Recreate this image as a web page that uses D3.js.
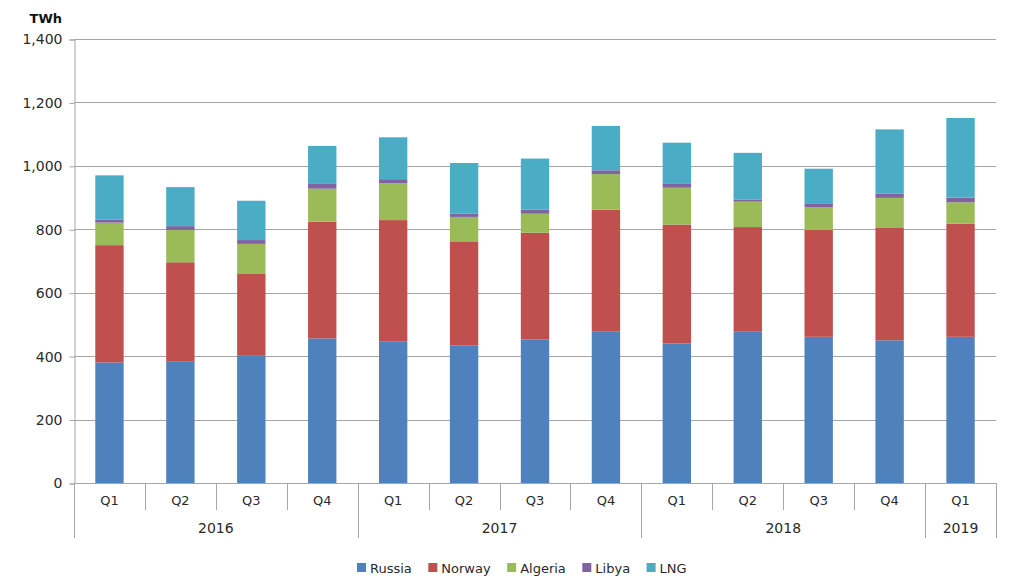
<!DOCTYPE html>
<html>
<head>
<meta charset="utf-8">
<script src="https://cdn.jsdelivr.net/npm/d3@7/dist/d3.min.js"></script>
<style>
  html, body { margin: 0; padding: 0; background: #fff; }
  svg { display: block; font-family: "DejaVu Sans", Verdana, sans-serif; }
</style>
</head>
<body>
<svg id="chart" width="1024" height="583"></svg>
<script>
const quarters = ["Q1","Q2","Q3","Q4","Q1","Q2","Q3","Q4","Q1","Q2","Q3","Q4","Q1"];
const years = ["2016","2016","2016","2016","2017","2017","2017","2017","2018","2018","2018","2018","2019"];
const seriesNames = ["Russia","Norway","Algeria","Libya","LNG"];
const russia  = [380, 384, 401, 456, 447, 433, 452, 477, 440, 477, 461, 450, 461];
const norway  = [370, 312, 260, 368, 382, 329, 337, 385, 375, 330, 337, 356, 357];
const algeria = [ 71, 102,  93, 104, 116,  77,  60, 112, 116,  80,  71,  93,  67];
const libya   = [ 10,  12,  12,  15,  13,  10,  13,  12,  14,   6,  13,  14,  15];
const lng     = [139, 123, 124, 120, 132, 160, 161, 140, 128, 148, 109, 202, 251];
const yTicks = [0, 200, 400, 600, 800, 1000, 1200, 1400];
const colors = ["#4F81BD", "#C0504D", "#9BBB59", "#8064A2", "#4BACC6"];

(function () {
const svg = d3.select("#chart");
const mLeft = 74, mRight = 996, mTop = 39, mBottom = 483;
const textColor = "#2a2a2a";

const idx = quarters.map((q, i) => i);
const rows = idx.map(i => ({ i, Russia: russia[i], Norway: norway[i], Algeria: algeria[i], Libya: libya[i], LNG: lng[i] }));

const x = d3.scaleBand().domain(idx).range([mLeft, mRight]).paddingInner(0.6).paddingOuter(0.3);
const xOuter = d3.scaleBand().domain(idx).range([mLeft, mRight]);
const y = d3.scaleLinear().domain([0, 1400]).range([mBottom, mTop]);

// gridlines
svg.append("g").selectAll("line").data(yTicks.filter(t => t > 0)).join("line")
  .attr("x1", mLeft).attr("x2", mRight)
  .attr("y1", d => Math.round(y(d)) + 0.5).attr("y2", d => Math.round(y(d)) + 0.5)
  .attr("stroke", "#a6a6a6").attr("stroke-width", 1);

// y axis
const yAxis = d3.axisLeft(y).tickValues(yTicks).tickSize(5).tickPadding(7)
  .tickFormat(d3.format(","));
const gy = svg.append("g").attr("transform", `translate(${mLeft + 0.5},0.5)`).call(yAxis);
gy.attr("font-family", "DejaVu Sans, Verdana, sans-serif").attr("font-size", 14);
gy.select(".domain").attr("stroke", "#a6a6a6");
gy.selectAll(".tick line").attr("stroke", "#a6a6a6");
gy.selectAll(".tick text").attr("fill", textColor);

svg.append("text").attr("x", 62).attr("y", 23).attr("text-anchor", "end")
  .attr("font-size", 13).attr("font-weight", "bold").attr("fill", "#111").text("TWh");

// stacked bars
const stack = d3.stack().keys(seriesNames)(rows);
svg.append("g").selectAll("g").data(stack).join("g")
  .attr("fill", (d, k) => colors[k])
  .selectAll("rect").data(d => d).join("rect")
  .attr("x", d => x(d.data.i))
  .attr("width", x.bandwidth())
  .attr("y", d => y(d[1]))
  .attr("height", d => y(d[0]) - y(d[1]));

// x axis baseline
svg.append("line").attr("x1", mLeft).attr("x2", mRight)
  .attr("y1", mBottom + 0.5).attr("y2", mBottom + 0.5).attr("stroke", "#a6a6a6");

// quarter separators and labels
const n = quarters.length;
const qBound = d3.range(n + 1).map(i => i === n ? mRight : xOuter(i));
const isYearBound = i => i === 0 || i === n || years[i] !== years[i - 1];
svg.append("g").selectAll("line").data(d3.range(n + 1)).join("line")
  .attr("x1", i => Math.round(qBound[i]) + 0.5).attr("x2", i => Math.round(qBound[i]) + 0.5)
  .attr("y1", mBottom).attr("y2", i => isYearBound(i) ? 538 : 510)
  .attr("stroke", "#a6a6a6");

svg.append("g").selectAll("text").data(idx).join("text")
  .attr("x", i => xOuter(i) + xOuter.bandwidth() / 2)
  .attr("y", 505).attr("text-anchor", "middle")
  .attr("font-size", 13).attr("fill", textColor).text(i => quarters[i]);

// year labels
const yearGroups = d3.groups(idx, i => years[i]);
svg.append("g").selectAll("text").data(yearGroups).join("text")
  .attr("x", d => (qBound[d[1][0]] + qBound[d[1][d[1].length - 1] + 1]) / 2)
  .attr("y", 532.5).attr("text-anchor", "middle")
  .attr("font-size", 14).attr("fill", textColor).text(d => d[0]);

// legend
const lg = svg.append("g");
let lx = 357;
seriesNames.forEach((name, k) => {
  lg.append("rect").attr("x", lx).attr("y", 563).attr("width", 9).attr("height", 9).attr("fill", colors[k]);
  const t = lg.append("text").attr("x", lx + 13).attr("y", 572.5)
    .attr("font-size", 13).attr("fill", textColor).text(name);
  lx += 13 + t.node().getComputedTextLength() + 16.5;
});
})();
</script>
</body>
</html>
